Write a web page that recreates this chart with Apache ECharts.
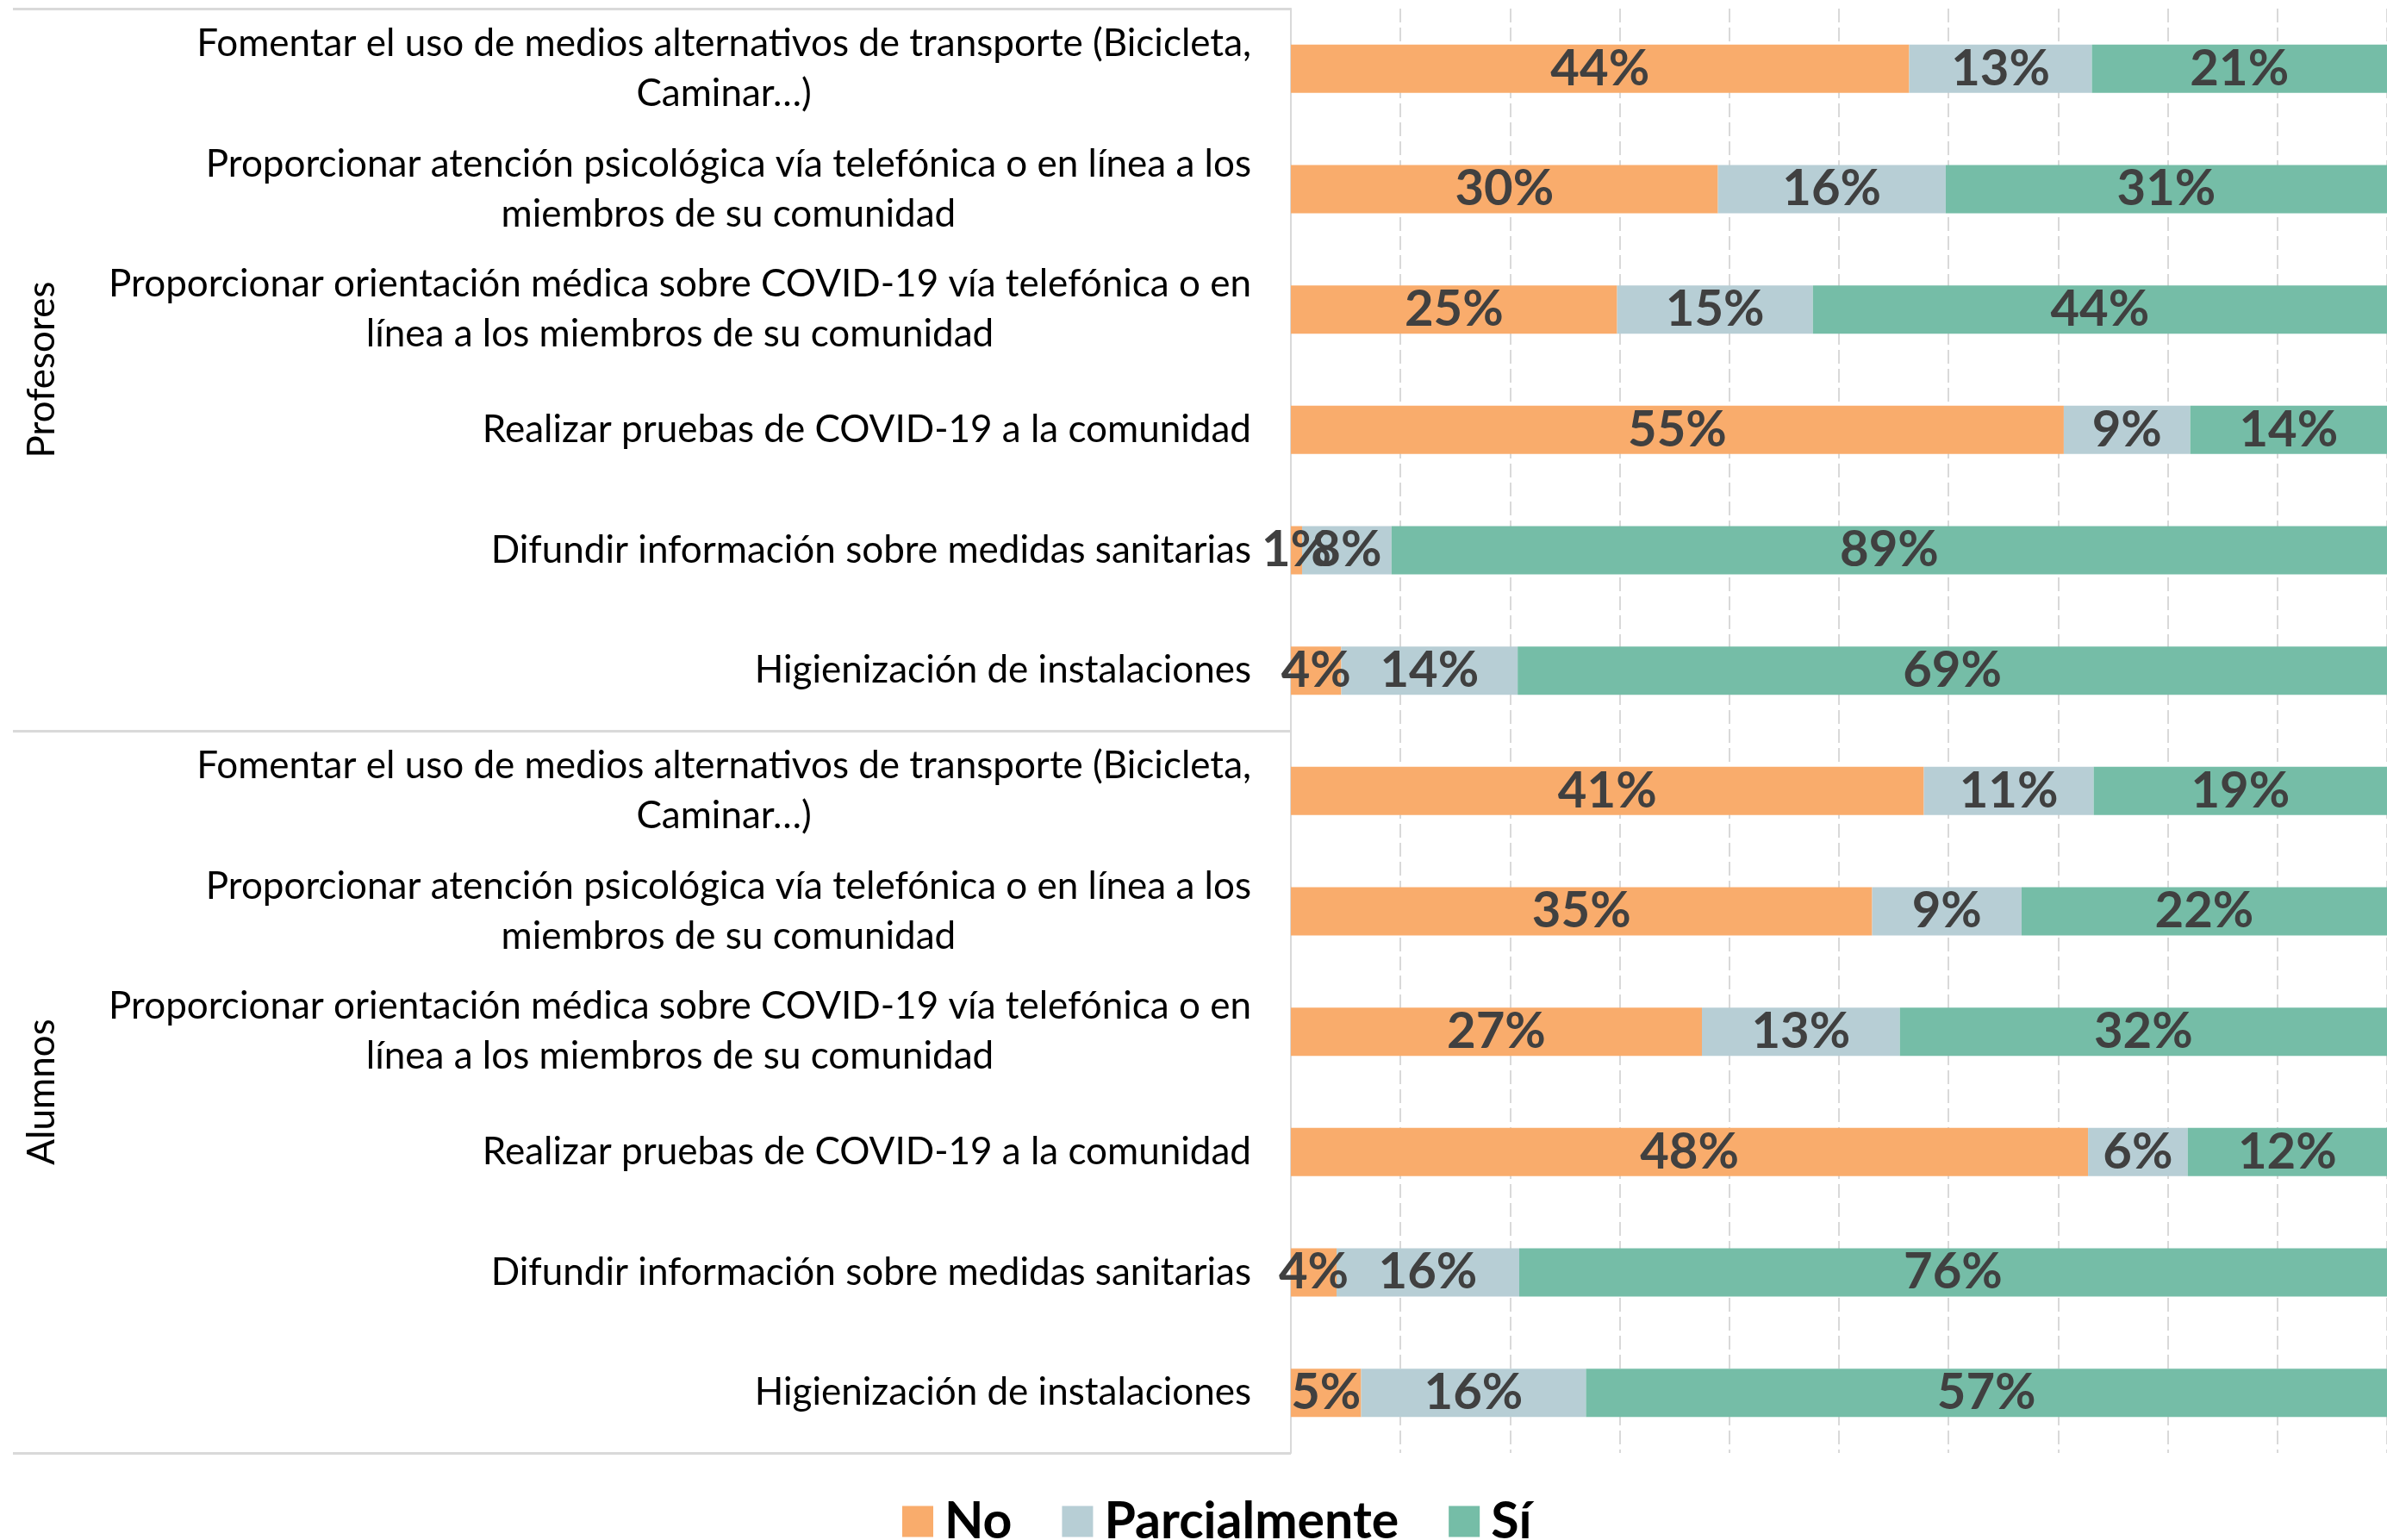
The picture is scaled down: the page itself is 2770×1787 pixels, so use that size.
<!DOCTYPE html>
<html>
<head>
<meta charset="utf-8">
<script src="https://cdn.jsdelivr.net/npm/echarts@6/dist/echarts.min.js"></script>
<style>
  html, body { margin: 0; padding: 0; background: #fff; }
  #chart { width: 2770px; height: 1787px; }
</style>
</head>
<body>
<div id="chart"></div>
<script>
// grupos y acciones (de arriba hacia abajo)
const groups = ['Profesores', 'Alumnos'];
const actions = [
  'Fomentar el uso de medios alternativos de transporte (Bicicleta,\nCaminar…)',
  'Proporcionar atención psicológica vía telefónica o en línea a los\nmiembros de su comunidad',
  'Proporcionar orientación médica sobre COVID-19 vía telefónica o en\nlínea a los miembros de su comunidad',
  'Realizar pruebas de COVID-19 a la comunidad',
  'Difundir información sobre medidas sanitarias',
  'Higienización de instalaciones',
];

// porcentajes, Profesores primero y luego Alumnos
const noVals = [44, 30, 25, 55, 1, 4, 41, 35, 27, 48, 4, 5];
const parcialVals = [13, 16, 15, 9, 8, 14, 11, 9, 13, 6, 16, 16];
const siVals = [21, 31, 44, 14, 89, 69, 19, 22, 32, 12, 76, 57];

const seriesNames = ['No', 'Parcialmente', 'Sí'];
const colors = ['#F9AC6C', '#B7CED5', '#75BDA7'];

const categories = [];
groups.forEach(g => actions.forEach(a => categories.push(g + '|' + a)));

// barra 100% apilada: cada fila se normaliza a su total
const rowTotals = noVals.map((v, i) => v + parcialVals[i] + siVals[i]);
const toShare = vals => vals.map((v, i) => ({ value: v / rowTotals[i] * 100, raw: v }));

const myChart = echarts.init(document.getElementById('chart'));

const labelStyle = {
  show: true,
  position: 'inside',
  fontFamily: 'Lato',
  fontWeight: 'bold',
  fontSize: 58,
  color: '#404040',
  formatter: p => p.data.raw + '%',
};

const options = {
  animation: false,
  color: colors,
  grid: { left: 1498, right: 0, top: 10, bottom: 101, outerBoundsMode: 'none' },
  legend: {
    left: 1042,
    top: 1731,
    itemWidth: 36,
    itemHeight: 36,
    itemGap: 58,
    icon: 'rect',
    data: seriesNames,
    textStyle: { fontFamily: 'Lato', fontWeight: 'bold', fontSize: 59, color: '#000', padding: [0, 0, 0, 8] },
  },
  xAxis: {
    type: 'value',
    min: 0,
    max: 100,
    interval: 10,
    axisLabel: { show: false },
    axisLine: { show: false },
    axisTick: { show: false },
    splitLine: { show: true, lineStyle: { color: '#D9D9D9', width: 2, type: [16, 6] } },
  },
  yAxis: [{
    type: 'category',
    inverse: true,
    data: categories,
    axisLine: { show: true, lineStyle: { color: '#D9D9D9', width: 2 } },
    axisTick: { show: false },
    axisLabel: {
      margin: 46,
      fontFamily: 'Lato',
      fontSize: 44,
      lineHeight: 58,
      color: '#000',
      formatter: v => v.split('|')[1].split('\n').map(l => '{c|' + l + '}').join('\n'),
      rich: { c: { align: 'center', fontFamily: 'Lato', fontSize: 44, lineHeight: 58, color: '#000' } },
    },
  }, {
    type: 'category',
    inverse: true,
    position: 'left',
    data: groups,
    axisLine: { show: false },
    axisTick: { show: true, length: 1483, lineStyle: { color: '#D9D9D9', width: 3 } },
    axisLabel: {
      rotate: 90,
      margin: 1427,
      fontFamily: 'Lato',
      fontSize: 44,
      color: '#000',
    },
  }],
  series: [noVals, parcialVals, siVals].map((vals, k) => ({
    name: seriesNames[k],
    type: 'bar',
    stack: 'total',
    yAxisIndex: 0,
    barWidth: 56,
    data: toShare(vals),
    label: labelStyle,
  })),
};
myChart.setOption(options);
</script>
</body>
</html>
